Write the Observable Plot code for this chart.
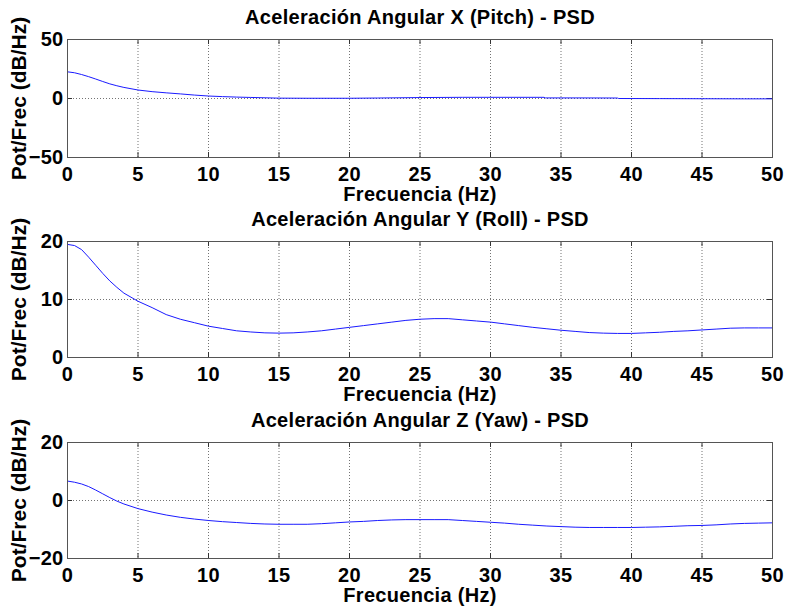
<!DOCTYPE html>
<html><head><meta charset="utf-8">
<script src="https://cdn.jsdelivr.net/npm/d3@7"></script>
<script src="https://cdn.jsdelivr.net/npm/@observablehq/plot@0.6"></script>
<style>
body{margin:0;background:#fff;}
#chart svg{display:block;overflow:visible;}
#chart svg text{letter-spacing:0.3px;}
#chart svg .ylab text{letter-spacing:0;}
</style></head>
<body><div id="chart"></div>
<script>
// ---- data ----
const titles = ["Aceleración Angular X (Pitch) - PSD", "Aceleración Angular Y (Roll) - PSD", "Aceleración Angular Z (Yaw) - PSD"];
const xLabel = "Frecuencia (Hz)";
const yLabel = "Pot/Frec (dB/Hz)";
const xTicks = [0,5,10,15,20,25,30,35,40,45,50];

const pitchFreq = [0,0.5,1,1.5,2,2.5,3,3.5,4,5,6,7,8,9,10,11,12,13,15,17,20,22,25,28,30,33.8,33.9,36,39,39.1,42,45,48,50];
const pitchPsd  = [22.6,21.8,20.3,18.5,16.5,14.4,12.4,10.8,9.4,7.2,5.8,4.8,3.9,2.9,2.1,1.6,1.2,0.9,0.3,0.2,0.2,0.4,0.8,1,1,1,0.5,0.5,0.4,0,-0.1,-0.2,-0.3,-0.3];
const pitchTicks = [-50,0,50];

const rollFreq = [0,0.5,1,1.5,2,2.5,3,3.5,4,5,6,7,8,9,10,11,12,13,14,15,16,17,18,19,20,21,22,23,24,25,26,27,28,29,30,31,32,33,34,35,36,37,38,39,40,41,42,43,44,45,46,47,48,49,50,50];
const rollPsd  = [19.5,19.3,18.6,17.3,15.9,14.5,13.2,12.1,11.1,9.7,8.6,7.4,6.6,6,5.4,5,4.6,4.4,4.25,4.2,4.25,4.4,4.6,4.9,5.2,5.5,5.8,6.1,6.4,6.6,6.7,6.7,6.5,6.3,6.1,5.8,5.5,5.2,4.95,4.7,4.5,4.3,4.2,4.15,4.15,4.25,4.35,4.5,4.6,4.75,4.9,5.05,5.1,5.1,5.1,3.7];
const rollTicks = [0,10,20];

const yawFreq = [0,0.5,1,1.5,2,2.5,3,3.5,4,5,6,7,8,9,10,11,12,13,14,15,16,17,18,19,20,21,22,23,24,25,26,27,28,29,30,31,32,33,34,35,36,37,38,39,40,41,42,43,44,45,46,47,48,49,50,50];
const yawPsd  = [6.7,6.3,5.7,4.8,3.6,2.3,1,-0.2,-1.2,-2.8,-4,-5,-5.8,-6.4,-6.9,-7.3,-7.6,-7.9,-8.1,-8.2,-8.2,-8.2,-8,-7.7,-7.4,-7.2,-6.9,-6.7,-6.6,-6.6,-6.6,-6.6,-6.9,-7.2,-7.5,-7.8,-8.2,-8.5,-8.8,-9,-9.2,-9.3,-9.3,-9.3,-9.3,-9.2,-9.1,-8.9,-8.7,-8.6,-8.4,-8.1,-7.9,-7.8,-7.7,-9.2];
const yawTicks = [-20,0,20];

// ---- layout ----
const panels = [
  {title: titles[0], freq: pitchFreq, psd: pitchPsd, yTicks: pitchTicks, height: 200, mt: 39, mb: 43},
  {title: titles[1], freq: rollFreq,  psd: rollPsd,  yTicks: rollTicks,  height: 200, mt: 41, mb: 43},
  {title: titles[2], freq: yawFreq,   psd: yawPsd,   yTicks: yawTicks,   height: 208, mt: 42, mb: 50}
];
const W = 785, ML = 67, MR = 13;
const font = "'Liberation Sans', Arial, sans-serif";
const FS = 20;
const container = document.getElementById("chart");

for (const p of panels) {
  const data = p.freq.map((f, i) => ({f, v: p.psd[i]}));
  const fh = p.height - p.mt - p.mb;
  const fw = W - ML - MR;
  const yDom = [p.yTicks[0], p.yTicks[p.yTicks.length - 1]];
  const inner = p.yTicks.slice(1, -1);
  const innerX = xTicks.slice(1, -1);
  const chart = Plot.plot({
    width: W, height: p.height,
    marginLeft: ML, marginRight: MR, marginTop: p.mt, marginBottom: p.mb,
    style: {fontFamily: font, fontWeight: "bold", fontSize: FS + "px", color: "#000", background: "transparent", overflow: "visible"},
    x: {domain: [0, 50]},
    y: {domain: yDom},
    marks: [
      Plot.ruleX(innerX, {stroke: "#000", strokeOpacity: 0.55, strokeDasharray: "1,2", strokeWidth: 1}),
      Plot.ruleY(inner, {stroke: "#000", strokeOpacity: 0.55, strokeDasharray: "1,2", strokeWidth: 1}),
      // inward ticks
      Plot.ruleX(innerX, {stroke: "#333", insetTop: fh - 5}),
      Plot.ruleX(innerX, {stroke: "#333", insetBottom: fh - 5}),
      Plot.ruleY(inner, {stroke: "#333", insetRight: fw - 5}),
      Plot.ruleY(inner, {stroke: "#333", insetLeft: fw - 5}),
      Plot.line(data, {x: "f", y: "v", stroke: "#1a1aff", strokeWidth: 1, curve: "linear"}),
      Plot.frame({stroke: "#555", strokeWidth: 1}),
      Plot.axisX(xTicks, {tickSize: 0, tickPadding: 9, label: null, fontSize: FS, fontWeight: "bold"}),
      Plot.axisY(p.yTicks, {tickSize: 0, tickPadding: 4, label: null, fontSize: FS, fontWeight: "bold"}),
      Plot.text([p.title], {frameAnchor: "top", dy: -22, lineAnchor: "middle", textAnchor: "middle", fontSize: FS, fontWeight: "bold"}),
      Plot.text([xLabel], {frameAnchor: "bottom", dy: 29, lineAnchor: "top", textAnchor: "middle", fontSize: FS, fontWeight: "bold"}),
      Plot.text([yLabel], {frameAnchor: "left", dx: -48, rotate: -90, lineAnchor: "middle", textAnchor: "middle", fontSize: 21, fontWeight: "bold", className: "ylab"})
    ]
  });
  container.appendChild(chart);
}
</script>
</body></html>
